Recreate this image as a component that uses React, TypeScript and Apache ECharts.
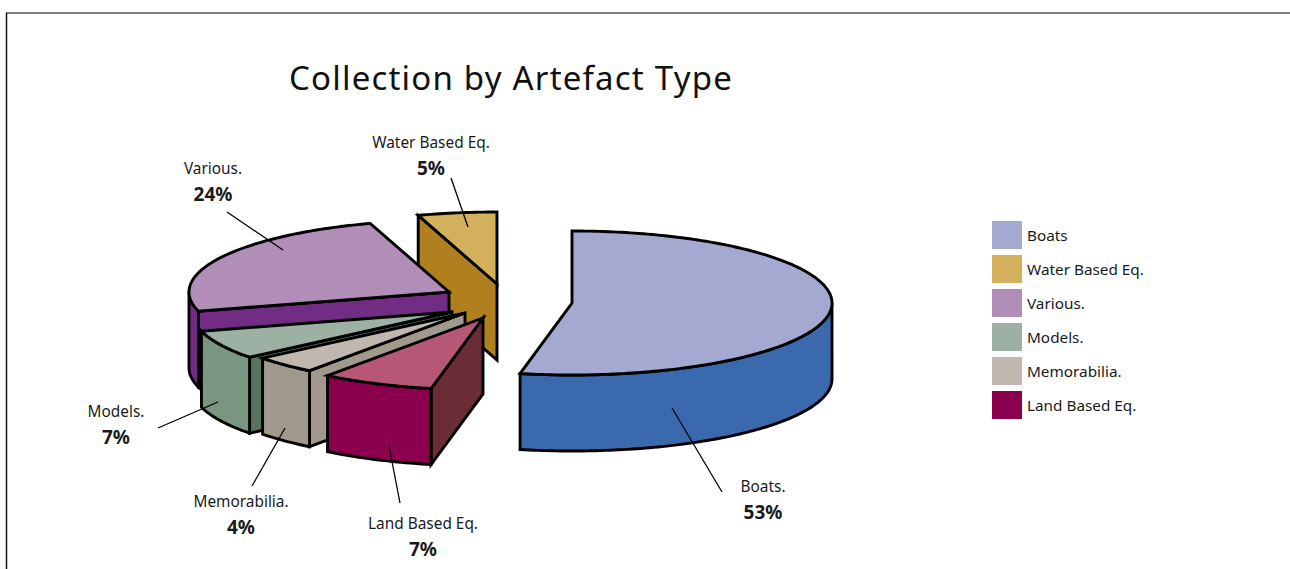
import React, { useEffect, useRef } from "react";
import * as echarts from "echarts";

const categories = ["Boats", "Water Based Eq.", "Various.", "Models.", "Memorabilia.", "Land Based Eq."];
const labelNames = ["Boats.", "Water Based Eq.", "Various.", "Models.", "Memorabilia.", "Land Based Eq."];
const shares = [53.2, 4.9, 24.4, 6.5, 4, 7];

const topColors = ["#A3A9D0", "#D3B05B", "#B18EB8", "#9CB0A3", "#C0B8AE", "#B65875"];
const wallColors = ["#3B69AE", "#AF801D", "#722C84", "#7A9580", "#A1998B", "#8A004C"];
const cutColors = ["#3B69AE", "#AF801D", "#722C84", "#577460", "#A1998B", "#6A2C36"];
const legendColors = ["#A3A9D0", "#D3B05B", "#B18EB8", "#9CB0A3", "#C0B8AE", "#8A004C"];

// layout of the exploded slices: where each slice's apex sits on the page
const apexX = [572, 497, 449, 452, 465, 483];
const apexY = [303, 284, 292, 312, 313, 318];
const labelX = [763, 431, 213, 116, 241, 423];
const labelY = [486, 142, 168, 411, 501, 523];
const leaderFrom = [[722, 492], [451, 178], [227, 212], [158, 428], [252, 486], [400, 503]];
const leaderTo = [[672, 408], [468, 227], [283, 250], [218, 402], [285, 428], [389, 446]];

const RX = 260;
const RY = 72;
const DEPTH = 76;
const FONT = '"Noto Sans", sans-serif';
const EDGE = { stroke: "#000", lineWidth: 2.9, lineJoin: "miter" as const, miterLimit: 6 };

const total = shares.reduce((a, b) => a + b, 0);

function sliceAngles(i: number): [number, number] {
  let end = 360 + (shares[0] / total) * 360;
  for (let k = 0; k < i; k++) end -= (shares[k] / total) * 360;
  const start = end - (shares[i] / total) * 360;
  return start >= 360 - 1e-6 ? [Math.max(0, start - 360), end - 360] : [start, end];
}

function rim(cx: number, cy: number, deg: number, drop = 0): number[] {
  const r = (deg * Math.PI) / 180;
  return [cx + RX * Math.sin(r), cy - RY * Math.cos(r) + drop];
}

function arc(cx: number, cy: number, a: number, b: number, drop = 0): number[][] {
  const pts: number[][] = [];
  const n = Math.max(2, Math.ceil(Math.abs(b - a)));
  for (let k = 0; k <= n; k++) pts.push(rim(cx, cy, a + ((b - a) * k) / n, drop));
  return pts;
}

function poly(points: number[][], fill: string) {
  return { type: "polygon", shape: { points }, style: { fill, ...EDGE } };
}

function cutFace(cx: number, cy: number, deg: number, fill: string) {
  const p = rim(cx, cy, deg);
  return poly([[cx, cy], p, [p[0], p[1] + DEPTH], [cx, cy + DEPTH]], fill);
}

function renderSlice(i: number) {
  const [start, end] = sliceAngles(i);
  const cx = apexX[i];
  const cy = apexY[i];
  const children: any[] = [];
  const s0 = Math.sin((start * Math.PI) / 180);
  const s1 = Math.sin((end * Math.PI) / 180);
  if (s0 < -1e-6) children.push(cutFace(cx, cy, start, cutColors[i]));
  if (s1 > 1e-6) children.push(cutFace(cx, cy, end, cutColors[i]));
  const w0 = Math.max(start, 90);
  const w1 = Math.min(end, 270);
  if (w1 > w0) {
    children.push(poly([...arc(cx, cy, w0, w1), ...arc(cx, cy, w1, w0, DEPTH)], wallColors[i]));
  }
  children.push(poly([[cx, cy], ...arc(cx, cy, start, end)], topColors[i]));
  children.push({
    type: "line",
    shape: { x1: leaderFrom[i][0], y1: leaderFrom[i][1], x2: leaderTo[i][0], y2: leaderTo[i][1] },
    style: { stroke: "#000", lineWidth: 1.3 },
  });
  children.push({
    type: "text",
    x: labelX[i],
    y: labelY[i],
    style: { text: labelNames[i], fill: "#1a1a1a", font: `15.4px ${FONT}`, textAlign: "center", textVerticalAlign: "middle" },
  });
  children.push({
    type: "text",
    x: labelX[i],
    y: labelY[i] + 26,
    style: {
      text: `${Math.round((shares[i] / total) * 100)}%`,
      fill: "#1a1a1a",
      font: `bold 19px ${FONT}`,
      textAlign: "center",
      textVerticalAlign: "middle",
    },
  });
  return { type: "group", children };
}

export default function App() {
  const ref = useRef<HTMLDivElement>(null);
  useEffect(() => {
    if (!ref.current) return;
    const chart = echarts.init(ref.current, undefined, { renderer: "svg" });
    chart.setOption({
      animation: false,
      backgroundColor: "#fff",
      title: {
        text: "Collection by Artefact Type",
        left: 284,
        top: 56,
        textStyle: { fontFamily: FONT, fontSize: 33, fontWeight: "normal", color: "#111" },
      },
      legend: {
        orient: "vertical",
        left: 992,
        top: 221,
        padding: 0,
        itemWidth: 30,
        itemHeight: 28,
        itemGap: 6,
        icon: "rect",
        selectedMode: false,
        data: categories,
        textStyle: { fontFamily: FONT, fontSize: 15.3, color: "#1a1a1a", padding: [0, 0, 3, 0] },
      },
      graphic: [
        { type: "line", shape: { x1: 6, y1: 13, x2: 1290, y2: 13 }, style: { stroke: "#555", lineWidth: 1.5 } },
        { type: "line", shape: { x1: 6.5, y1: 13, x2: 6.5, y2: 569 }, style: { stroke: "#111", lineWidth: 1.5 } },
      ],
      series: categories.map((name, i) => ({
        type: "custom",
        name,
        coordinateSystem: "none",
        silent: true,
        itemStyle: { color: legendColors[i] },
        data: [shares[i]],
        renderItem: () => renderSlice(i),
      })),
    });
    ref.current.querySelectorAll("text").forEach((t) => {
      if (t.textContent === "Collection by Artefact Type") t.setAttribute("letter-spacing", "1.2");
    });
    return () => chart.dispose();
  }, []);
  return <div ref={ref} style={{ position: "absolute", left: 0, top: 0, width: 1290, height: 569 }} />;
}
